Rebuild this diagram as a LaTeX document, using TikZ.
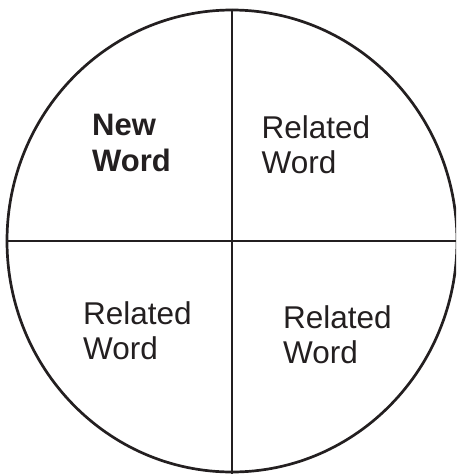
\documentclass[tikz,border=0pt]{standalone}
\usepackage{fontspec}
\setmainfont{Liberation Sans}
\usepackage{xcolor}
\usetikzlibrary{shapes.geometric, positioning}

\definecolor{inkgray}{HTML}{231F20}

\begin{document}
\begin{tikzpicture}[
    x=1pt, y=-1pt,
    disc/.style={ellipse, draw=inkgray, line width=2.7pt, minimum width=450pt, minimum height=462pt, inner sep=0pt},
    quadline/.style={draw=inkgray, line width=2.7pt},
    wordnode/.style={anchor=north west, inner sep=0pt, align=left, text=inkgray, font=\fontsize{31.5}{35}\selectfont}
  ]
  \useasboundingbox (0,0) rectangle (456,474);
  \clip (0,0) rectangle (456,474);

  % Circle and quadrant lines
  \node[disc] (circ) at (232,241) {};
  \coordinate (bottomend) at (232,474);
  \coordinate (rightend) at (456,241);
  \draw[quadline] (circ.north) -- (bottomend);
  \draw[quadline] (circ.west) -- (rightend);

  % Words
  \node[wordnode, font=\bfseries\fontsize{31}{36}\selectfont] (newword) at (92,114) {New\\Word};
  \node[wordnode] (relTR) at (261.5,115) {Related\\Word};
  \node[wordnode] (relBL) at (83,301.5) {Related\\Word};
  \node[wordnode] (relBR) at (283,305) {Related\\Word};
\end{tikzpicture}
\end{document}
